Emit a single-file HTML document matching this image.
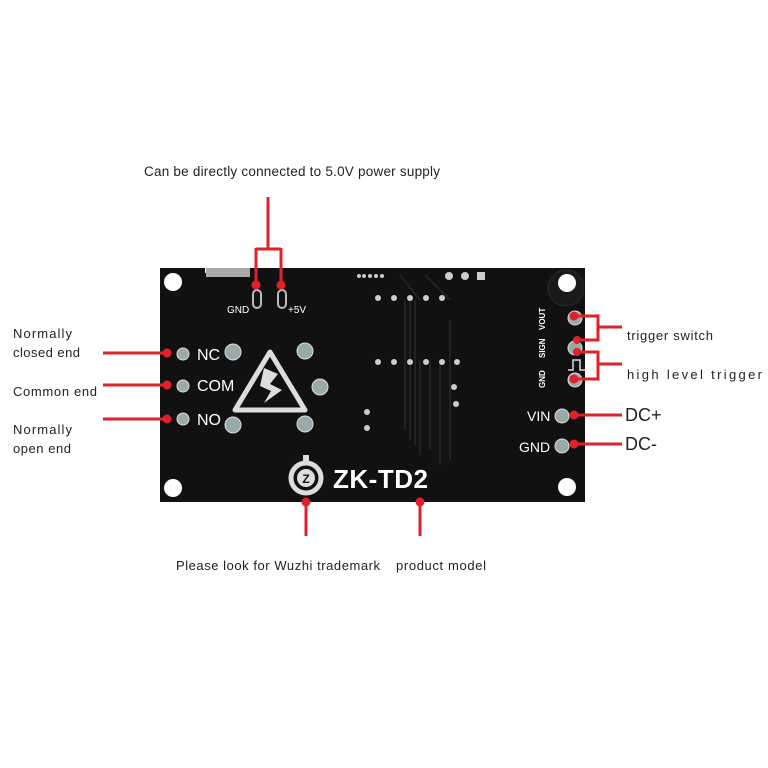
<!DOCTYPE html>
<html><head><meta charset="utf-8"><style>
html,body{margin:0;padding:0;background:#fff}
svg{display:block}
text{font-family:"Liberation Sans",sans-serif}
</style></head><body>
<svg width="768" height="768" viewBox="0 0 768 768" xmlns="http://www.w3.org/2000/svg">
<rect width="768" height="768" fill="#fff"/>
<path d="M160 268 H205 V273 H250 V268 H585 V502 H160 Z" fill="#111"/>
<rect x="206" y="268" width="44" height="9" fill="#aaa"/>
<circle cx="566" cy="288" r="18" fill="#1a1a1a" stroke="#2a2a2a"/>
<g fill="#fff">
<circle cx="173" cy="282" r="9"/><circle cx="567" cy="283" r="9"/>
<circle cx="173" cy="488" r="9"/><circle cx="567" cy="487" r="9"/>
</g>
<g stroke="#222" stroke-width="2" fill="none">
<path d="M405 300 V430 M410 300 V440 M415 300 V445 M420 360 V455 M430 360 V450 M440 360 V465 M450 320 V460"/>
<path d="M400 275 L420 300 M425 275 L450 300"/>
</g>
<g fill="#9aa" stroke="#ddd" stroke-width="1">
<circle cx="183" cy="354" r="6"/><circle cx="183" cy="386" r="6"/><circle cx="183" cy="419" r="6"/>
<circle cx="233" cy="352" r="8"/><circle cx="233" cy="425" r="8"/>
<circle cx="305" cy="351" r="8"/><circle cx="320" cy="387" r="8"/><circle cx="305" cy="424" r="8"/>
<circle cx="575" cy="318" r="7"/><circle cx="575" cy="348" r="7"/><circle cx="575" cy="380" r="7"/>
<circle cx="562" cy="416" r="7"/><circle cx="562" cy="446" r="7"/>
</g>
<g fill="#ccc">
<circle cx="378" cy="298" r="3"/><circle cx="394" cy="298" r="3"/><circle cx="410" cy="298" r="3"/><circle cx="426" cy="298" r="3"/><circle cx="442" cy="298" r="3"/>
<circle cx="378" cy="362" r="3"/><circle cx="394" cy="362" r="3"/><circle cx="410" cy="362" r="3"/><circle cx="426" cy="362" r="3"/><circle cx="442" cy="362" r="3"/><circle cx="457" cy="362" r="3"/>
<circle cx="454" cy="387" r="3"/><circle cx="456" cy="404" r="3"/><circle cx="367" cy="412" r="3"/><circle cx="367" cy="428" r="3"/>
<circle cx="359" cy="276" r="2"/><circle cx="364" cy="276" r="2"/><circle cx="370" cy="276" r="2"/><circle cx="376" cy="276" r="2"/><circle cx="382" cy="276" r="2"/>
<circle cx="449" cy="276" r="4"/><circle cx="465" cy="276" r="4"/><rect x="477" y="272" width="8" height="8"/>
</g>
<rect x="253" y="290" width="8" height="18" rx="4" fill="none" stroke="#bbb" stroke-width="2"/>
<rect x="278" y="290" width="8" height="18" rx="4" fill="none" stroke="#bbb" stroke-width="2"/>
<path d="M270 352 L305 410 H235 Z" fill="#111" stroke="#ddd" stroke-width="5" stroke-linejoin="round"/>
<path d="M264 368 L278 374 L270 384 L282 390 L264 403 L271 391 L260 386 Z" fill="#ddd"/>
<circle cx="306" cy="478" r="15" fill="none" stroke="#ddd" stroke-width="5"/>
<circle cx="306" cy="478" r="9" fill="#ddd"/>
<text x="306" y="483" font-size="12" font-weight="bold" fill="#111" text-anchor="middle">Z</text>
<rect x="303" y="455" width="6" height="10" fill="#ddd"/>
<g fill="#fff">
<text x="197" y="360" font-size="16">NC</text>
<text x="197" y="391" font-size="16">COM</text>
<text x="197" y="425" font-size="16">NO</text>
<text x="227" y="313" font-size="10">GND</text>
<text x="288" y="313" font-size="10">+5V</text>
<text x="527" y="421" font-size="14">VIN</text>
<text x="519" y="452" font-size="14">GND</text>
<text x="333" y="488" font-size="26" font-weight="bold" textLength="95">ZK-TD2</text>
<text font-size="8" font-weight="bold" transform="translate(545,330) rotate(-90)">VOUT</text>
<text font-size="8" font-weight="bold" transform="translate(545,358) rotate(-90)">SIGN</text>
<text font-size="8" font-weight="bold" transform="translate(545,388) rotate(-90)">GND</text>
</g>
<path d="M568 370 H573 V360 H580 V370 H585" stroke="#ddd" fill="none" stroke-width="1.5"/>
<g stroke="#e0202a" stroke-width="3" fill="none">
<path d="M268 197 V249 M256 249 H281 M256 248 V285 M281 248 V285"/>
<path d="M103 353 H167 M103 385 H167 M103 419 H167"/>
<path d="M574 316 H598 V340 H577 M598 327 H622"/>
<path d="M577 352 H598 V379 H574 M598 364 H622"/>
<path d="M574 415 H622 M574 444 H622"/>
<path d="M306 502 V536 M420 502 V536"/>
</g>
<g fill="#e0202a">
<circle cx="256" cy="285" r="4.5"/><circle cx="281" cy="285" r="4.5"/>
<circle cx="167" cy="353" r="4.5"/><circle cx="167" cy="385" r="4.5"/><circle cx="167" cy="419" r="4.5"/>
<circle cx="574" cy="316" r="4.5"/><circle cx="577" cy="340" r="4"/><circle cx="577" cy="352" r="4"/><circle cx="574" cy="379" r="4.5"/>
<circle cx="574" cy="415" r="4.5"/><circle cx="574" cy="444" r="4.5"/>
<circle cx="306" cy="502" r="4.5"/><circle cx="420" cy="502" r="4.5"/>
</g>
<g fill="#222" font-size="13">
<text x="144" y="176" font-size="13.5" textLength="296">Can be directly connected to 5.0V power supply</text>
<text x="13" y="338" textLength="59">Normally</text>
<text x="13" y="357" textLength="67">closed end</text>
<text x="13" y="396" textLength="84">Common end</text>
<text x="13" y="434" textLength="59">Normally</text>
<text x="13" y="453" textLength="58">open end</text>
<text x="176" y="570" textLength="204">Please look for Wuzhi trademark</text>
<text x="396" y="570" textLength="90">product model</text>
<text x="627" y="340" textLength="86">trigger switch</text>
<text x="627" y="379" textLength="135">high level trigger</text>
<text x="625" y="421" font-size="18">DC+</text>
<text x="625" y="450" font-size="18">DC-</text>
</g>
</svg>
</body></html>
